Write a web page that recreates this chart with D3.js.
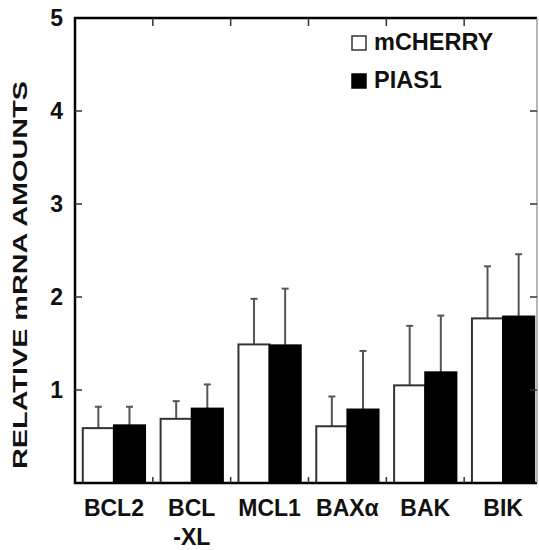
<!DOCTYPE html>
<html>
<head>
<meta charset="utf-8">
<script src="https://cdn.jsdelivr.net/npm/d3@7"></script>
<style>
  body { margin: 0; background: #fff; }
  text { font-family: "Liberation Sans", Arial, sans-serif; font-weight: bold; fill: #111; }
</style>
</head>
<body>
<div id="chart"></div>
<script>
// data
let categories = ["BCL2", "BCL-XL", "MCL1", "BAXα", "BAK", "BIK"];
let catLabels = [["BCL2"], ["BCL", "-XL"], ["MCL1"], ["BAXα"], ["BAK"], ["BIK"]];
let series = ["mCHERRY", "PIAS1"];
let mcherryMean = [0.59, 0.69, 1.49, 0.61, 1.05, 1.77];
let mcherryErr  = [0.82, 0.88, 1.98, 0.93, 1.69, 2.33];
let pias1Mean   = [0.62, 0.80, 1.48, 0.79, 1.19, 1.79];
let pias1Err    = [0.82, 1.06, 2.09, 1.42, 1.80, 2.46];
let yTicks = [1, 2, 3, 4, 5];

let width = 539, height = 550;
let plotL = 75, plotR = 537, plotT = 18, plotB = 483;

let svg = d3.select("#chart").append("svg")
  .attr("width", width)
  .attr("height", height);

let y = d3.scaleLinear().domain([0, 5]).range([plotB, plotT]);
let x = d3.scaleBand().domain(categories).range([plotL, 542]);
let xs = d3.scaleBand().domain(series).range([0, x.bandwidth()])
  .paddingInner(0).paddingOuter(0.25);

let rows = [];
categories.forEach(function (c, i) {
  rows.push({ cat: c, s: "mCHERRY", v: mcherryMean[i], e: mcherryErr[i] });
  rows.push({ cat: c, s: "PIAS1", v: pias1Mean[i], e: pias1Err[i] });
});

// error bars first so the bar covers the lower end
let eb = svg.append("g").attr("stroke", "#555").attr("stroke-width", 2);
rows.forEach(function (d) {
  let cx = x(d.cat) + xs(d.s) + xs.bandwidth() / 2;
  eb.append("line").attr("x1", cx).attr("x2", cx).attr("y1", y(d.v)).attr("y2", y(d.e));
  eb.append("line").attr("x1", cx - 3.5).attr("x2", cx + 3.5).attr("y1", y(d.e)).attr("y2", y(d.e));
});

svg.append("g").selectAll("rect")
  .data(rows)
  .enter().append("rect")
  .attr("x", function (d) { return x(d.cat) + xs(d.s); })
  .attr("y", function (d) { return y(d.v); })
  .attr("width", xs.bandwidth())
  .attr("height", function (d) { return plotB - y(d.v); })
  .attr("fill", function (d) { return d.s == "PIAS1" ? "#000" : "#fff"; })
  .attr("stroke", function (d) { return d.s == "PIAS1" ? "#000" : "#333"; })
  .attr("stroke-width", 2);

// frame
let frame = svg.append("g").attr("fill", "none");
frame.append("path")
  .attr("d", "M" + plotR + "," + plotT + "H" + plotL + "V" + plotB + "H" + plotR)
  .attr("stroke", "#000").attr("stroke-width", 2.5);
frame.append("line")
  .attr("x1", plotR).attr("x2", plotR).attr("y1", plotT).attr("y2", plotB)
  .attr("stroke", "#888").attr("stroke-width", 1.2);

// ticks: inward on all four sides
let bounds = categories.slice(1).map(function (c) { return x(c); });
let tk = svg.append("g").attr("stroke", "#333").attr("stroke-width", 1.5);
bounds.forEach(function (bx) {
  tk.append("line").attr("x1", bx).attr("x2", bx).attr("y1", plotT).attr("y2", plotT + 8);
  tk.append("line").attr("x1", bx).attr("x2", bx).attr("y1", plotB).attr("y2", plotB - 6);
});
yTicks.slice(0, -1).forEach(function (t) {
  tk.append("line").attr("x1", plotL).attr("x2", plotL + 7).attr("y1", y(t)).attr("y2", y(t));
  tk.append("line").attr("x1", plotR).attr("x2", plotR - 7).attr("y1", y(t)).attr("y2", y(t));
});

// y tick labels
svg.append("g").selectAll("text")
  .data(yTicks)
  .enter().append("text")
  .attr("x", 63)
  .attr("y", function (d) { return y(d); })
  .attr("dy", "0.36em")
  .attr("text-anchor", "end")
  .style("font-size", "23px")
  .text(function (d) { return d; });

// category labels
let cl = svg.append("g");
categories.forEach(function (c, i) {
  let t = cl.append("text")
    .attr("x", x(c) + x.bandwidth() / 2)
    .attr("y", 516)
    .attr("text-anchor", "middle")
    .style("font-size", "23px");
  catLabels[i].forEach(function (s, j) {
    t.append("tspan").attr("x", x(c) + x.bandwidth() / 2).attr("dy", j == 0 ? 0 : 29).text(s);
  });
});

// y title (the original lettering is stretched lengthwise)
svg.append("text")
  .attr("transform", "translate(27," + 275 + ") rotate(-90)")
  .attr("text-anchor", "middle")
  .attr("textLength", 388)
  .attr("lengthAdjust", "spacingAndGlyphs")
  .style("font-size", "21px")
  .text("RELATIVE mRNA AMOUNTS");

// legend
let lg = svg.append("g");
series.forEach(function (s, i) {
  let gy = 36 + i * 38;
  lg.append("rect").attr("x", 352).attr("y", gy).attr("width", 14).attr("height", 14)
    .attr("fill", i == 0 ? "#fff" : "#000").attr("stroke", i == 0 ? "#333" : "#000").attr("stroke-width", 1.5);
  lg.append("text").attr("x", 374).attr("y", gy + 14)
    .style("font-size", "23.5px").text(s);
});
</script>
</body>
</html>
